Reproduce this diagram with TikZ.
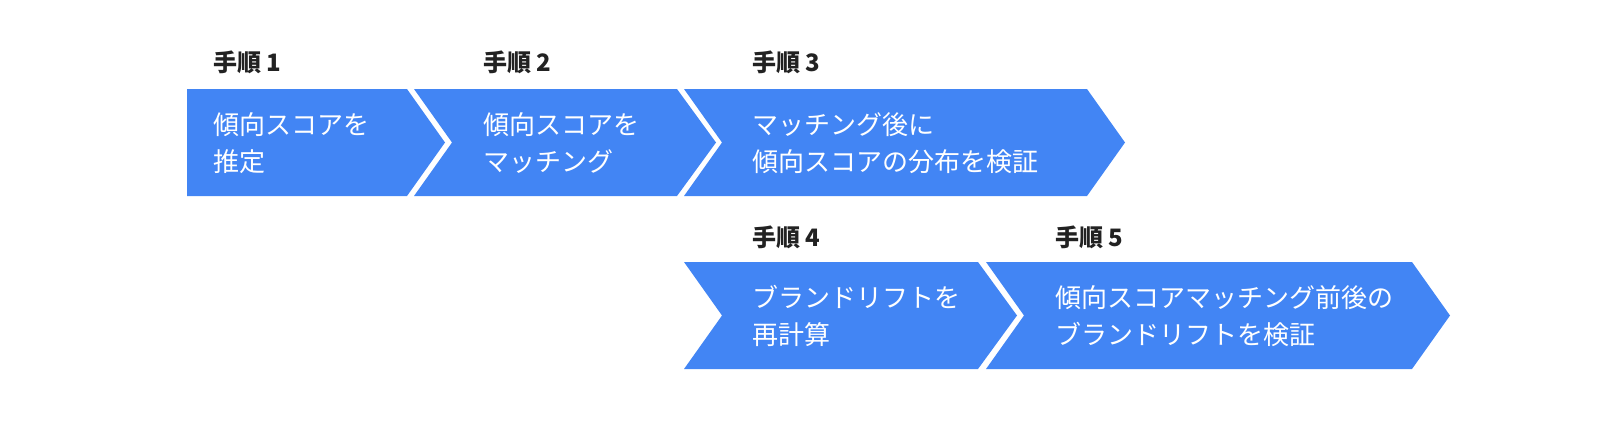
\documentclass[tikz,border=0pt]{standalone}
\usepackage{fontspec}
\setmainfont{Noto Sans CJK JP}
\definecolor{arrowblue}{HTML}{4285F4}
\definecolor{labelgray}{HTML}{222222}
\begin{document}
\begin{tikzpicture}[x=0.5pt,y=-0.5pt,
  chev/.style={fill=arrowblue,draw=none},
  body/.style={anchor=west,text=white,font=\fontsize{13}{18.5}\selectfont,inner sep=0pt,align=left},
  steplabel/.style={anchor=west,text=labelgray,font=\bfseries\fontsize{12}{14}\selectfont,inner sep=0pt}]
\useasboundingbox (0,0) rectangle (1600,440);
% row 1
\fill[chev] (187,89) -- (407,89) -- (445,142.5) -- (407,196) -- (187,196) -- cycle;
\fill[chev] (414,89) -- (677,89) -- (716,142.5) -- (677,196) -- (414,196) -- (452,142.5) -- cycle;
\fill[chev] (684,89) -- (1087,89) -- (1125,142.5) -- (1087,196) -- (684,196) -- (722,142.5) -- cycle;
% row 2
\fill[chev] (684,262) -- (978,262) -- (1017,315.5) -- (978,369) -- (684,369) -- (722,315.5) -- cycle;
\fill[chev] (986,262) -- (1412,262) -- (1450,315.5) -- (1412,369) -- (986,369) -- (1024,315.5) -- cycle;
% labels
\node[steplabel] (l1) at (213,62) {手順 1};
\node[steplabel] (l2) at (483,62) {手順 2};
\node[steplabel] (l3) at (752,62) {手順 3};
\node[steplabel] (l4) at (752,237) {手順 4};
\node[steplabel] (l5) at (1055,237) {手順 5};
% bodies
\node[body] (b1) at (213,143) {傾向スコアを\\推定};
\node[body] (b2) at (483,143) {傾向スコアを\\マッチング};
\node[body] (b3) at (752,143) {マッチング後に\\傾向スコアの分布を検証};
\node[body] (b4) at (752,316) {ブランドリフトを\\再計算};
\node[body] (b5) at (1055,316) {傾向スコアマッチング前後の\\ブランドリフトを検証};
\end{tikzpicture}
\end{document}
